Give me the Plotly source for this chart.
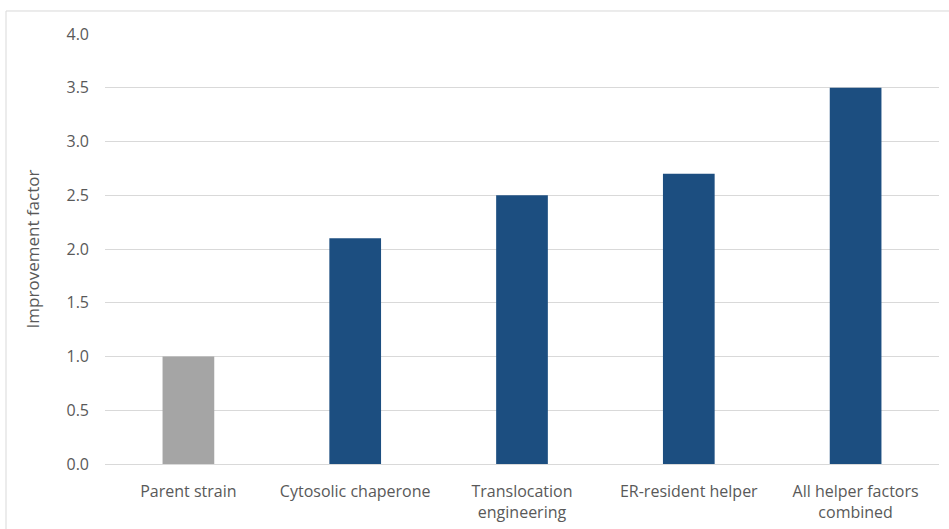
import plotly.graph_objects as go

categories = ["Parent strain", "Cytosolic chaperone", "Translocation<br>engineering",
              "ER-resident helper", "All helper factors<br>combined"]
improvement = [1.0, 2.1, 2.5, 2.7, 3.5]
bar_colors = ["#A5A5A5", "#1C4E80", "#1C4E80", "#1C4E80", "#1C4E80"]
y_ticks = [0.0, 0.5, 1.0, 1.5, 2.0, 2.5, 3.0, 3.5, 4.0]

font_family = "Open Sans, Noto Sans, sans-serif"
text_color = "#595959"

fig = go.Figure(
    go.Bar(
        x=categories,
        y=improvement,
        marker=dict(color=bar_colors, line=dict(width=0)),
        hoverinfo="x+y",
    )
)

fig.update_layout(
    width=949,
    height=529,
    margin=dict(l=105, r=10, t=34, b=65),
    paper_bgcolor="white",
    plot_bgcolor="white",
    bargap=0.69,
    showlegend=False,
    font=dict(family=font_family, size=16, color=text_color),
    shapes=[
        dict(type="rect", xref="paper", yref="paper",
             x0=-0.1187, x1=1.02, y0=-0.2, y1=1.0535,
             line=dict(color="#D9D9D9", width=1), layer="below"),
    ],
)

fig.update_xaxes(
    automargin=False,
    showline=True, linecolor="#D9D9D9", linewidth=1,
    showgrid=False, ticks="", ticklabelstandoff=13,
    tickfont=dict(size=16, color=text_color),
)
fig.update_yaxes(
    automargin=False,
    range=[0, 4.0], tickvals=y_ticks, tickformat=".1f",
    showgrid=True, gridcolor="#D9D9D9", gridwidth=1,
    zeroline=False, showline=False, ticks="", ticklabelstandoff=15,
    tickfont=dict(size=16, color=text_color),
    title=dict(text="Improvement factor", font=dict(size=17, color=text_color), standoff=22),
)

fig.write_html("out.html")
